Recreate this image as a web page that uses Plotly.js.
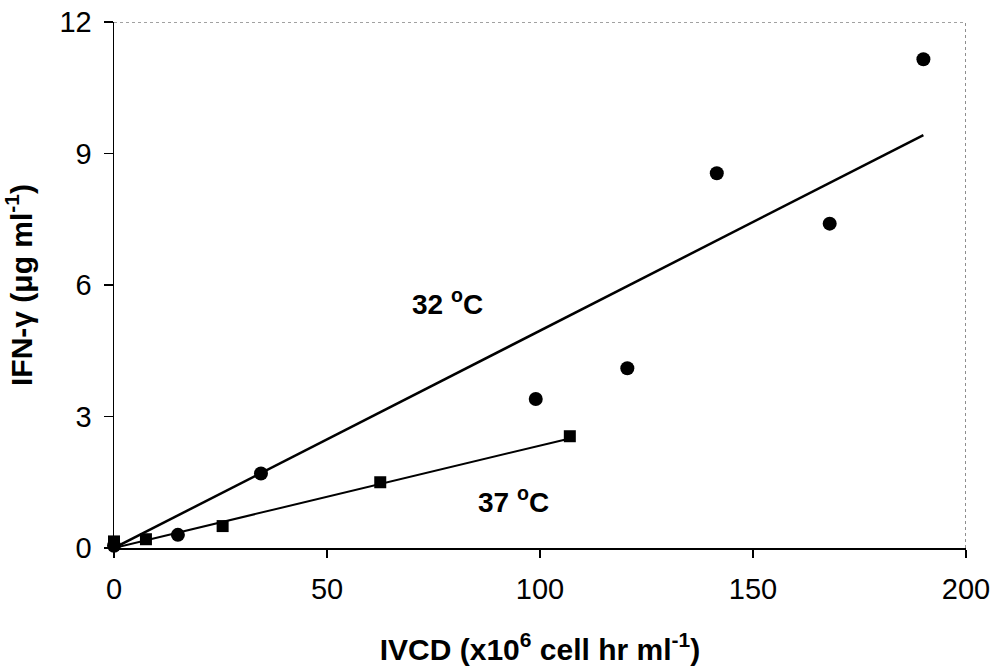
<!DOCTYPE html>
<html>
<head>
<meta charset="utf-8">
<script src="https://cdn.plot.ly/plotly-3.0.1.min.js"></script>
<style>
  html, body { margin: 0; padding: 0; background: #fff; }
  #chart { width: 995px; height: 668px; }
</style>
</head>
<body>
<div id="chart"></div>
<script>
// IFN-γ titre against integral of viable cell density, two culture temperatures
const ivcd32 = [0, 15, 34.5, 99, 120.5, 141.5, 168, 190];
const ifn32  = [0.05, 0.3, 1.7, 3.4, 4.1, 8.55, 7.4, 11.15];

const ivcd37 = [0, 7.5, 25.5, 62.5, 107];
const ifn37  = [0.15, 0.2, 0.5, 1.5, 2.55];

// linear fits through the origin
const fit32x = [0, 190];
const fit32y = [0, 9.42];
const fit37x = [0, 107];
const fit37y = [0, 2.5];

const xTicks = [0, 50, 100, 150, 200];
const yTicks = [0, 3, 6, 9, 12];

const FONT = 'Arial, "Liberation Sans", sans-serif';

const traces = [
  { x: fit32x, y: fit32y, mode: 'lines', line: { color: '#000', width: 2.5 }, hoverinfo: 'skip', cliponaxis: false },
  { x: fit37x, y: fit37y, mode: 'lines', line: { color: '#000', width: 2 }, hoverinfo: 'skip', cliponaxis: false },
  { x: ivcd32, y: ifn32, mode: 'markers', name: '32 °C',
    marker: { symbol: 'circle', size: 14, color: '#000' }, cliponaxis: false },
  { x: ivcd37, y: ifn37, mode: 'markers', name: '37 °C',
    marker: { symbol: 'square', size: 12, color: '#000' }, cliponaxis: false }
];

const layout = {
  width: 995, height: 668,
  margin: { l: 114, r: 29, t: 22, b: 120 },
  paper_bgcolor: '#fff', plot_bgcolor: '#fff',
  showlegend: false,
  font: { family: FONT, color: '#000' },
  xaxis: {
    range: [0, 200], tickvals: xTicks, ticktext: xTicks.map(String),
    showgrid: false, zeroline: false,
    showline: true, linecolor: '#000', linewidth: 1.5,
    ticks: 'outside', ticklen: 8, tickwidth: 1.5, tickcolor: '#000',
    tickfont: { size: 29, family: FONT },
    ticklabelstandoff: 7,
    title: { text: '<b>IVCD (x10<sup>6</sup> cell hr ml<sup>-1</sup>)</b>', font: { size: 30, family: FONT }, standoff: 34 }
  },
  yaxis: {
    range: [0, 12], tickvals: yTicks, ticktext: yTicks.map(String),
    showgrid: false, zeroline: false,
    showline: true, linecolor: '#000', linewidth: 1.5,
    ticks: 'outside', ticklen: 9, tickwidth: 1.5, tickcolor: '#000',
    tickfont: { size: 29, family: FONT },
    ticklabelstandoff: 6,
    title: { text: '<b>IFN-γ (μg ml<sup>-1</sup>)</b>', font: { size: 30, family: FONT }, standoff: 18 }
  },
  shapes: [
    { type: 'line', xref: 'x', yref: 'y', x0: 0, x1: 200, y0: 12, y1: 12,
      line: { color: '#444', width: 1.2, dash: 'dot' } },
    { type: 'line', xref: 'x', yref: 'y', x0: 200, x1: 200, y0: 0, y1: 12,
      line: { color: '#444', width: 1.2, dash: 'dot' } }
  ],
  annotations: [
    { x: 78.2, y: 5.61, xref: 'x', yref: 'y', text: '<b>32 <sup>o</sup>C</b>', showarrow: false,
      font: { size: 28, family: FONT, color: '#000' } },
    { x: 93.7, y: 1.10, xref: 'x', yref: 'y', text: '<b>37 <sup>o</sup>C</b>', showarrow: false,
      font: { size: 28, family: FONT, color: '#000' } }
  ]
};

Plotly.newPlot('chart', traces, layout, { displayModeBar: false, staticPlot: true });
</script>
</body>
</html>
